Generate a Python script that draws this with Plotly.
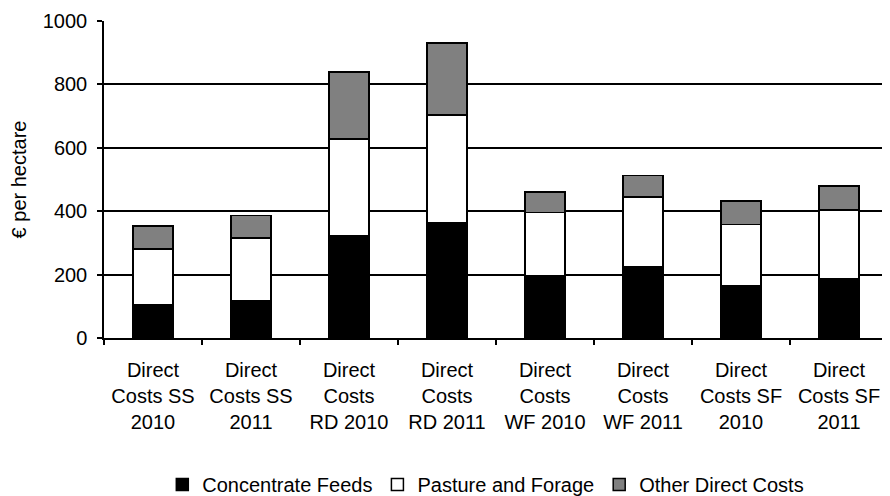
import plotly.graph_objects as go

categories = [
    "Direct<br>Costs SS<br>2010", "Direct<br>Costs SS<br>2011",
    "Direct<br>Costs<br>RD 2010", "Direct<br>Costs<br>RD 2011",
    "Direct<br>Costs<br>WF 2010", "Direct<br>Costs<br>WF 2011",
    "Direct<br>Costs SF<br>2010", "Direct<br>Costs SF<br>2011",
]
concentrate_feeds = [105, 119, 322, 364, 197, 225, 166, 188]
pasture_forage = [175, 196, 306, 340, 199, 220, 192, 216]
other_direct = [74, 72, 211, 227, 65, 68, 74, 76]
y_ticks = [0, 200, 400, 600, 800, 1000]

FONT = "Liberation Sans, Arial, sans-serif"

fig = go.Figure()
series = [
    ("Concentrate Feeds", concentrate_feeds, "#000000"),
    ("Pasture and Forage", pasture_forage, "#ffffff"),
    ("Other Direct Costs", other_direct, "#808080"),
]
for name, vals, col in series:
    fig.add_trace(go.Bar(
        x=categories, y=vals, name=name,
        marker=dict(color=col, line=dict(color="#000000", width=1.5)),
    ))

fig.update_layout(
    barmode="stack",
    bargap=0.59,
    width=882, height=496,
    margin=dict(l=96, r=2, t=13, b=166),
    paper_bgcolor="white", plot_bgcolor="white",
    font=dict(family=FONT, size=20, color="#000000"),
    showlegend=True,
    legend=dict(
        orientation="h", xref="paper", x=0.487, xanchor="center",
        yref="container", y=0.0, yanchor="bottom",
        font=dict(size=20), traceorder="normal",
        itemwidth=30,
    ),
    xaxis=dict(
        automargin=False,
        showline=True, linecolor="#000000", linewidth=1.5,
        ticks="outside", tickson="boundaries", ticklen=5, tickcolor="#000000",
        tickwidth=1.5, showgrid=False, ticklabelstandoff=13,
    ),
    yaxis=dict(
        automargin=False,
        range=[0, 1000], tickvals=y_ticks,
        showline=True, linecolor="#000000", linewidth=1.5,
        ticks="outside", ticklen=5, tickcolor="#000000", tickwidth=1.5,
        showgrid=True, gridcolor="#000000", gridwidth=1.5,
        zeroline=False, ticklabelstandoff=6,
        title=dict(text="€ per hectare", font=dict(size=20), standoff=11),
    ),
)

fig.write_html("out.html")
